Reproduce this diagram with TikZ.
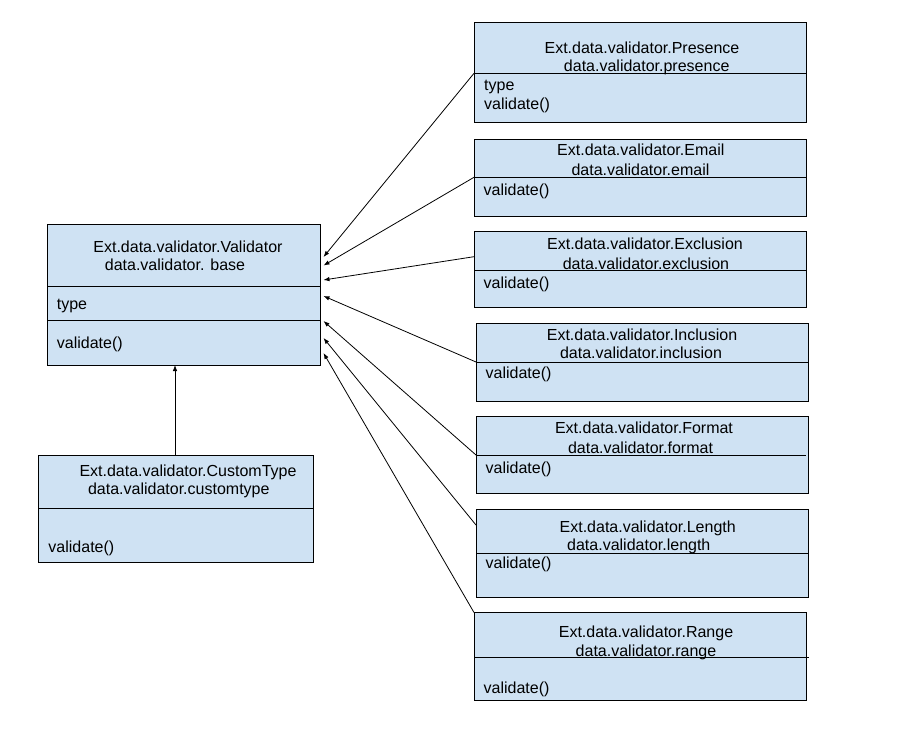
\documentclass[tikz,border=0pt]{standalone}
\usepackage{fontspec}
\setmainfont{Liberation Sans}
\usetikzlibrary{arrows.meta}
\definecolor{boxfill}{HTML}{CFE2F3}
\begin{document}
\begin{tikzpicture}[x=1pt,y=-1pt,
  box/.style={draw=black, fill=boxfill, line width=0.9pt, inner sep=0pt, outer sep=0pt, anchor=north west},
  divline/.style={line width=0.9pt},
  lbl/.style={inner sep=0pt, font=\fontsize{16}{19}\selectfont, anchor=base},
  item/.style={lbl, anchor=base west},
  inherit/.style={line width=0.8pt, -{Latex[length=6pt,width=4.5pt]}}]
\useasboundingbox (0,0) rectangle (898,733);

% box: name, left, top, right, bottom
\newcommand{\classbox}[5]{\node[box, minimum width=#4pt-#2pt, minimum height=#5pt-#3pt] (#1) at (#2,#3) {};}
% divider line across a box at a given height
\newcommand{\divider}[2]{\draw[divline] (#1.west |- 0,#2) -- (#1.east |- 0,#2);}

% base validator
\classbox{base}{47.3}{224.3}{320}{365}
\divider{base}{286}
\divider{base}{320.3}
\node[lbl] (baseA) at (188,252.2) {Ext.data.validator.Validator};
\node[lbl] (baseB) at (175,270.5) {data.validator. base};
\node[item] (baseT) at (56.7,309.8) {type};
\node[item] (baseV) at (56.7,348.8) {validate()};

% custom type
\classbox{custom}{38.3}{455}{313.3}{562.7}
\divider{custom}{508.3}
\node[lbl] (custA) at (188,476.2) {Ext.data.validator.CustomType};
\node[lbl] (custB) at (178.8,494.8) {data.validator.customtype};
\node[item] (custV) at (48.3,552.2) {validate()};

% presence
\classbox{pres}{474}{22.3}{806.7}{122.3}
\divider{pres}{73.3}
\node[lbl] (presA) at (642,53.2) {Ext.data.validator.Presence};
\node[lbl] (presB) at (646.7,71.2) {data.validator.presence};
\node[item] (presT) at (484,90.5) {type};
\node[item] (presV) at (484,109.8) {validate()};

% email
\classbox{email}{474}{139.3}{806.7}{216.7}
\divider{email}{177.3}
\node[lbl] (emailA) at (640.8,155.5) {Ext.data.validator.Email};
\node[lbl] (emailB) at (640.5,175.5) {data.validator.email};
\node[item] (emailV) at (483.5,195.5) {validate()};

% exclusion
\classbox{excl}{474}{231.7}{806.7}{307.3}
\divider{excl}{270}
\node[lbl] (exclA) at (645,249.5) {Ext.data.validator.Exclusion};
\node[lbl] (exclB) at (646,269.2) {data.validator.exclusion};
\node[item] (exclV) at (483.5,288.5) {validate()};

% inclusion
\classbox{incl}{476}{323}{808}{401}
\divider{incl}{362}
\node[lbl] (inclA) at (642,340.5) {Ext.data.validator.Inclusion};
\node[lbl] (inclB) at (641,358.8) {data.validator.inclusion};
\node[item] (inclV) at (485.5,378.5) {validate()};

% format
\classbox{fmt}{476}{416.7}{808.5}{493.3}
\draw[divline] (fmt.west |- 0,455) -- (806,455);
\node[lbl] (fmtA) at (644,433.8) {Ext.data.validator.Format};
\node[lbl] (fmtB) at (640.5,453.3) {data.validator.format};
\node[item] (fmtV) at (485.5,473.5) {validate()};

% length
\classbox{len}{476}{509}{808.5}{597}
\divider{len}{553}
\node[lbl] (lenA) at (647.7,532.2) {Ext.data.validator.Length};
\node[lbl] (lenB) at (638.8,550.2) {data.validator.length};
\node[item] (lenV) at (485.5,568.5) {validate()};

% range
\classbox{range}{474}{612.5}{806.7}{700}
\draw[divline] (range.west |- 0,657) -- (809,657);
\node[lbl] (rangeA) at (646,637.5) {Ext.data.validator.Range};
\node[lbl] (rangeB) at (646,656) {data.validator.range};
\node[item] (rangeV) at (483.5,693.3) {validate()};

% connector end points
\coordinate (s1) at (pres.west |- 0,73.3);
\coordinate (s2) at (email.west |- 0,177.3);
\coordinate (s3) at (excl.west |- 0,256.7);
\coordinate (s4) at (incl.west |- 0,362);
\coordinate (s5) at (fmt.west |- 0,455);
\coordinate (s6) at (len.west |- 0,525);
\coordinate (s7) at (range.north west);
\coordinate (e1) at (323.5,257);
\coordinate (e2) at (323.5,265.5);
\coordinate (e3) at (323.5,280);
\coordinate (e4) at (323.5,296);
\coordinate (e5) at (323.5,321);
\coordinate (e6) at (323.5,338);
\coordinate (e7) at (323.5,353);
\coordinate (cTop) at (custom.north -| 175,0);
\coordinate (bBot) at (base.south -| 175,0);

\foreach \i in {1,...,7} {\draw[inherit] (s\i) -- (e\i);}
\draw[inherit] (cTop) -- (bBot);
\end{tikzpicture}
\end{document}
